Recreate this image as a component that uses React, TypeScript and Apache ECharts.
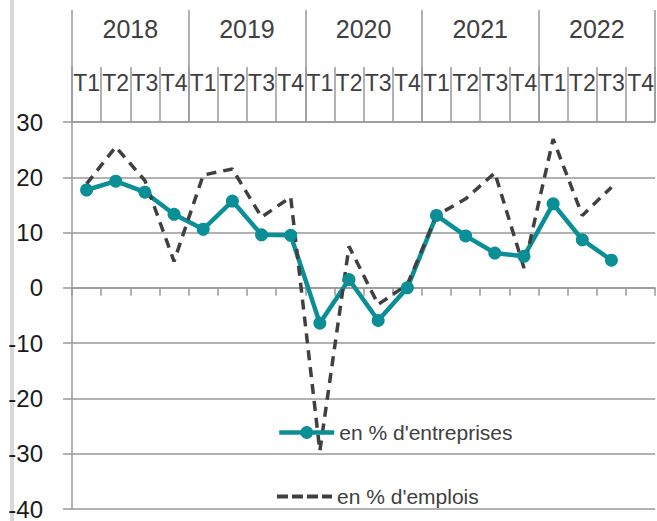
import React, { useEffect, useRef } from "react";
import * as echarts from "echarts";

const years = ["2018", "2019", "2020", "2021", "2022"];
const quarterNames = ["T1", "T2", "T3", "T4"];
const categories = years.flatMap(() => quarterNames);

const entreprisesName = "en % d'entreprises";
const emploisName = "en % d'emplois";

const entreprises = [17.7, 19.3, 17.3, 13.3, 10.6, 15.7, 9.6, 9.5, -6.4, 1.5, -5.9, 0.0, 13.1, 9.4, 6.3, 5.7, 15.2, 8.7, 5.0, null];
const emplois = [18.8, 25.5, 19.4, 4.8, 20.4, 21.5, 12.8, 16.4, -29.5, 7.5, -3.0, 0.6, 13.1, 16.1, 20.8, 3.6, 26.9, 13.1, 18.2, null];

const yMin = -40;
const yMax = 30;
const yInterval = 10;

const GRAY = "#999999";
const TEXT = "#404040";
const TEAL = "#0a8f96";
const DASH = "#404040";
const FONT = "Liberation Sans, Arial, sans-serif";

const dashIcon = "path://M0,0h11v4h-11z M15,0h11v4h-11z M30,0h11v4h-11z M45,0h10v4h-10z";

export default function App() {
  const ref = useRef<HTMLDivElement>(null);
  useEffect(() => {
    if (!ref.current) return;
    const chart = echarts.init(ref.current, undefined, { renderer: "svg" });
    chart.setOption({
      animation: false,
      backgroundColor: "#ffffff",
      textStyle: { fontFamily: FONT },
      grid: { left: 72, right: 1, top: 122, bottom: 8, containLabel: false },
      graphic: [
        { type: "rect", left: 10, top: 0, shape: { width: 4, height: 521 }, style: { fill: "#d9d9d9" } },
      ],
      legend: [
        {
          data: [entreprisesName],
          left: 277,
          top: 422,
          padding: 0,
          itemWidth: 55,
          itemHeight: 16,
          lineStyle: { width: 4.5, color: TEAL },
          textStyle: { fontSize: 21, color: TEXT, fontFamily: FONT },
        },
        {
          data: [{ name: emploisName, icon: dashIcon }],
          left: 277,
          top: 486,
          padding: 0,
          itemWidth: 55,
          itemHeight: 4,
          itemStyle: { color: DASH },
          textStyle: { fontSize: 21, color: TEXT, fontFamily: FONT },
        },
      ],
      xAxis: [
        {
          type: "category",
          data: categories,
          position: "bottom",
          axisLine: { show: true, onZero: true, lineStyle: { color: GRAY, width: 1.5 } },
          axisTick: { show: true, length: 8, lineStyle: { color: GRAY, width: 1.5 } },
          axisLabel: { show: false },
          splitLine: { show: false },
        },
        {
          type: "category",
          data: categories,
          position: "top",
          axisLine: { show: true, onZero: false, lineStyle: { color: GRAY, width: 1.5 } },
          axisTick: { show: true, length: 55, lineStyle: { color: GRAY, width: 1.5 } },
          axisLabel: { show: true, interval: 0, fontSize: 23, color: TEXT, margin: 28, fontFamily: FONT },
          splitLine: { show: false },
        },
        {
          type: "category",
          data: years,
          position: "top",
          axisLine: { show: false, onZero: false },
          axisTick: { show: true, length: 112, lineStyle: { color: GRAY, width: 1.5 } },
          axisLabel: { show: true, interval: 0, fontSize: 25, color: TEXT, margin: 81, fontFamily: FONT },
          splitLine: { show: false },
        },
      ],
      yAxis: {
        type: "value",
        min: yMin,
        max: yMax,
        interval: yInterval,
        axisLine: { show: true, lineStyle: { color: GRAY, width: 1.5 } },
        axisTick: { show: true, length: 9, lineStyle: { color: GRAY, width: 1.5 } },
        axisLabel: { fontSize: 24, color: "#1a1a1a", margin: 29, fontFamily: FONT },
        splitLine: { show: true, lineStyle: { color: GRAY, width: 1.5 } },
      },
      series: [
        {
          name: entreprisesName,
          type: "line",
          data: entreprises,
          xAxisIndex: 0,
          yAxisIndex: 0,
          color: TEAL,
          symbol: "circle",
          symbolSize: 13,
          lineStyle: { color: TEAL, width: 4.5 },
          itemStyle: { color: TEAL },
        },
        {
          name: emploisName,
          type: "line",
          data: emplois,
          xAxisIndex: 0,
          yAxisIndex: 0,
          color: DASH,
          symbol: "none",
          lineStyle: { color: DASH, width: 3.5, type: [10, 7] },
          itemStyle: { color: DASH },
        },
      ],
    });
    return () => chart.dispose();
  }, []);
  return (
    <div
      ref={ref}
      style={{ position: "fixed", left: 0, top: 0, width: 657, height: 521 }}
    />
  );
}
